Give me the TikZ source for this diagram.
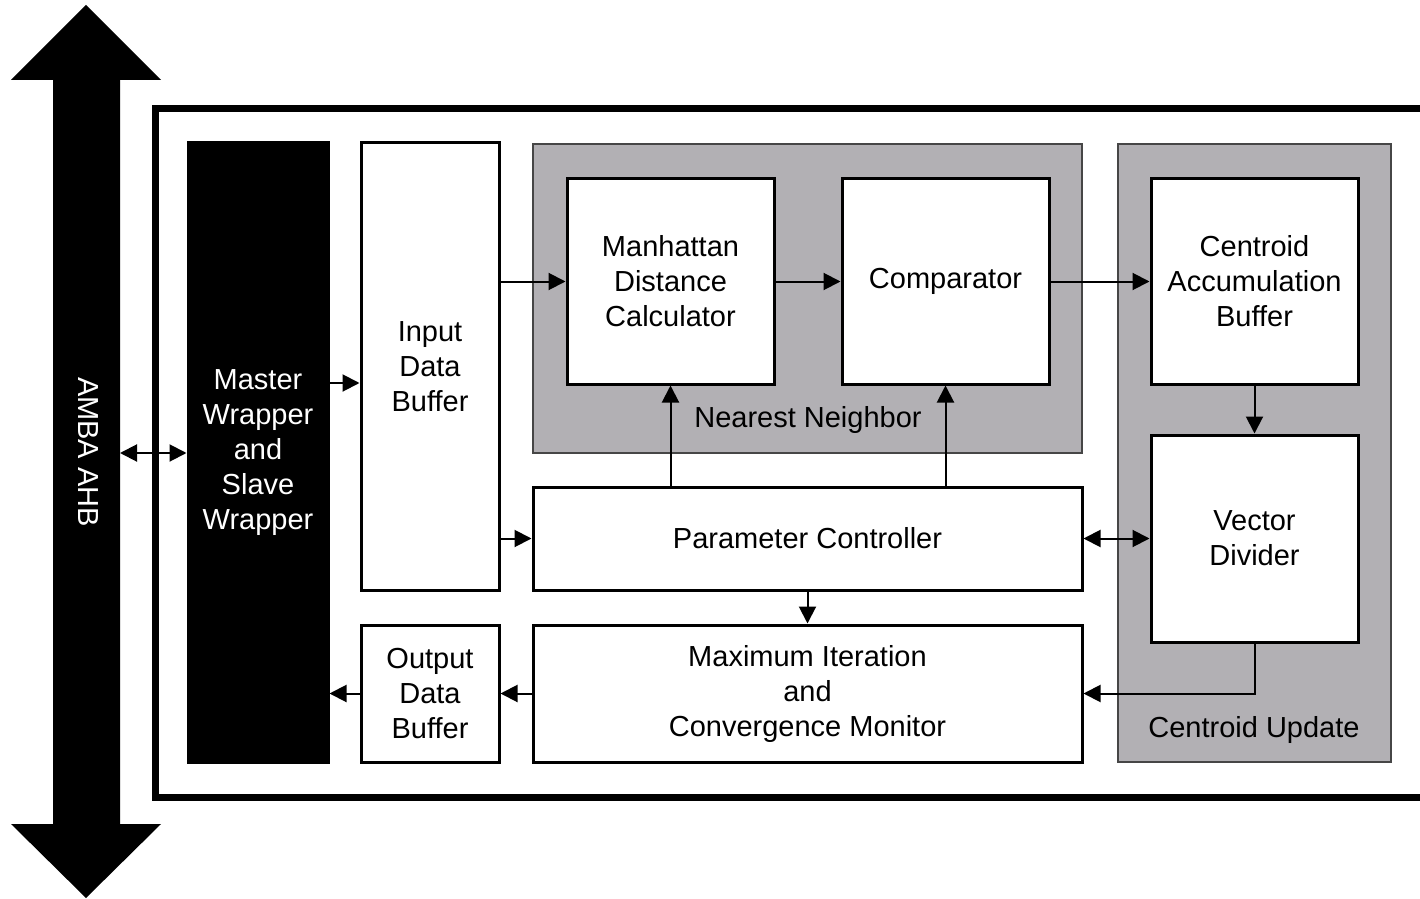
\documentclass[tikz,border=0pt]{standalone}
\usepackage{fontspec}
\setmainfont{Liberation Sans}
\usetikzlibrary{arrows.meta}
\definecolor{groupgrey}{RGB}{178,176,180}
\definecolor{groupedge}{RGB}{70,70,70}
\tikzset{
  x=0.5pt, y=-0.5pt,
  every node/.style={font=\fontsize{14.5}{17.5}\selectfont, align=center, inner sep=0pt},
  block/.style={draw=black, fill=white, line width=1.5pt, rectangle},
  blackblock/.style={draw=black, fill=black, line width=1.5pt, rectangle, text=white},
  group/.style={draw=groupedge, fill=groupgrey, line width=0.8pt, rectangle},
  arr/.style={line width=1pt, -{Triangle[length=8.5pt,width=8.5pt]}},
  biarr/.style={line width=1pt, {Triangle[length=8.5pt,width=8.5pt]}-{Triangle[length=8.5pt,width=8.5pt]}},
}
\begin{document}
\begin{tikzpicture}
\useasboundingbox (0,0) rectangle (1420,899);

% system bus
\fill[black] (53,80) -- (11,80) -- (86,5) -- (161,80) -- (120,80) -- (120,824)
  -- (161,824) -- (86,898) -- (11,824) -- (53,824) -- cycle;
\node[text=white, rotate=-90] (ahb) at (88,452) {AMBA AHB};
\coordinate (busport) at (120,453);

% accelerator frame (open to the right)
\draw[line width=3.5pt] (1425,109) -- (155,109) -- (155,797) -- (1425,797);

% functional groups
\node[group, minimum width=274.5pt, minimum height=154.5pt] (nn) at (807.5,298.5) {};
\node (nnlabel) at (808,420) {Nearest Neighbor};
\node[group, minimum width=136.5pt, minimum height=309pt] (cu) at (1254.5,453) {};
\node (culabel) at (1254,730) {Centroid Update};

% blocks
\node[blackblock, minimum width=70pt, minimum height=309.5pt] (master) at (258,452.5)
  {Master\\Wrapper\\and\\Slave\\Wrapper};
\node[block, minimum width=69pt, minimum height=223.5pt] (input) at (430,366.5)
  {Input\\Data\\Buffer};
\node[block, minimum width=103.5pt, minimum height=102.5pt] (manh) at (670.5,281.5)
  {Manhattan\\Distance\\Calculator};
\node[block, minimum width=103.5pt, minimum height=102.5pt] (comp) at (945.5,281.5)
  {Comparator};
\node[block, minimum width=103.5pt, minimum height=102.5pt] (acc) at (1254.5,281.5)
  {Centroid\\Accumulation\\Buffer};
\node[block, minimum width=103.5pt, minimum height=103.5pt] (vec) at (1254.5,538.5)
  {Vector\\Divider};
\node[block, minimum width=274.5pt, minimum height=51.5pt] (param) at (807.5,538.5)
  {Parameter Controller};
\node[block, minimum width=274.5pt, minimum height=68.5pt] (maxit) at (807.5,693.5)
  {Maximum Iteration\\and\\Convergence Monitor};
\node[block, minimum width=69pt, minimum height=68.5pt] (output) at (430,693.5)
  {Output\\Data\\Buffer};

% connections
\coordinate (mrow) at (0,383);
\draw[biarr] (busport) -- (master.west |- busport);
\draw[arr] (master.east |- mrow) -- (input.west |- mrow);
\draw[arr] (input.east |- manh.west) -- (manh.west);
\draw[arr] (manh.east) -- (comp.west);
\draw[arr] (comp.east) -- (acc.west);
\draw[arr] (input.east |- param.west) -- (param.west);
\draw[arr] (param.north -| manh.south) -- (manh.south);
\draw[arr] (param.north -| comp.south) -- (comp.south);
\draw[biarr] (param.east) -- (vec.west |- param.east);
\draw[arr] (param.south) -- (maxit.north);
\draw[arr] (acc.south) -- (vec.north);
\draw[arr] (vec.south) |- (maxit.east);
\draw[arr] (maxit.west) -- (output.east);
\draw[arr] (output.west) -- (master.east |- output.west);
\end{tikzpicture}
\end{document}
